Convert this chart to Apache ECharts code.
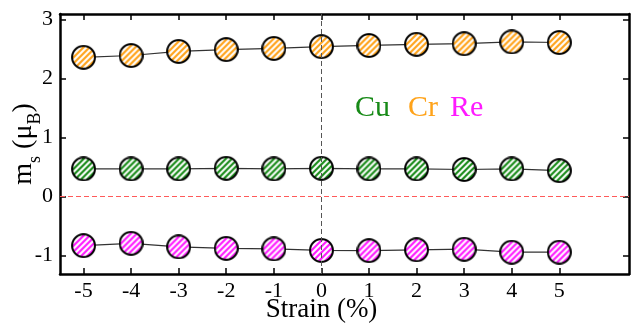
<!DOCTYPE html>
<html>
<head>
<meta charset="utf-8">
<script src="https://cdn.jsdelivr.net/npm/echarts@6/dist/echarts.min.js"></script>
<style>html,body{margin:0;padding:0;background:#fff}#c{width:631px;height:325px}</style>
</head>
<body>
<div id="c"></div>
<script>
// ---- data ----
const strain = [-5, -4, -3, -2, -1, 0, 1, 2, 3, 4, 5];
const cu = [0.47, 0.47, 0.47, 0.48, 0.47, 0.48, 0.47, 0.47, 0.46, 0.47, 0.44];
const cr = [2.36, 2.39, 2.46, 2.49, 2.51, 2.54, 2.56, 2.58, 2.59, 2.62, 2.61];
const re = [-0.83, -0.79, -0.85, -0.875, -0.885, -0.91, -0.915, -0.90, -0.89, -0.94, -0.94];
const seriesNames = ['Cu', 'Cr', 'Re'];
const xTicks = [-5, -4, -3, -2, -1, 0, 1, 2, 3, 4, 5];
const yTicks = [-1, 0, 1, 2, 3];

const colors = {Cu: '#178a17', Cr: '#ffa31a', Re: '#ff1aff'};
const FONT = '"Liberation Serif", "Times New Roman", serif';
const SYM = 25;

// hatched circle marker image (style asset)
function marker(color) {
  const R = 4, s = SYM, c = document.createElement('canvas');
  c.width = s * R; c.height = s * R;
  const g = c.getContext('2d');
  g.scale(R, R);
  const r = s / 2 - 1.1;
  g.save();
  g.beginPath(); g.arc(s / 2, s / 2, r, 0, Math.PI * 2); g.clip();
  g.fillStyle = color; g.fillRect(0, 0, s, s);
  g.strokeStyle = '#ffffff'; g.lineWidth = 2.1;
  g.beginPath();
  for (let t = -s; t < 2 * s; t += 6) { g.moveTo(t, s); g.lineTo(t + s, 0); }
  g.stroke();
  g.restore();
  g.beginPath(); g.arc(s / 2, s / 2, r, 0, Math.PI * 2);
  g.strokeStyle = '#000'; g.lineWidth = 2; g.stroke();
  return 'image://' + c.toDataURL('image/png');
}

const chart = echarts.init(document.getElementById('c'), null, {renderer: 'canvas'});

const axisLine = {show: true, onZero: false, lineStyle: {color: '#000', width: 2.5}};
const tickStyle = {lineStyle: {color: '#000', width: 1.5}};

function mkSeries(name, data) {
  return {
    name: name,
    type: 'line',
    z: 3,
    data: strain.map((x, i) => [x, data[i]]),
    symbol: marker(colors[name]),
    symbolSize: SYM,
    showSymbol: true,
    lineStyle: {color: '#333', width: 1.2},
    itemStyle: {color: colors[name]},
    emphasis: {disabled: true},
    silent: true
  };
}

const option = {
  animation: false,
  grid: {left: 60, right: 2, top: 14, bottom: 51, containLabel: false, outerBoundsMode: 'none'},
  xAxis: [
    {
      type: 'value', min: -5.494, max: 6.465, position: 'bottom',
      axisLine: axisLine,
      axisTick: Object.assign({show: true, inside: true, length: 6, customValues: xTicks}, tickStyle),
      axisLabel: {customValues: xTicks, color: '#000', fontSize: 22, fontFamily: FONT, margin: 6},
      splitLine: {show: false}
    },
    {
      type: 'value', min: -5.494, max: 6.465, position: 'top',
      axisLine: axisLine,
      axisTick: Object.assign({show: true, inside: true, length: 6, customValues: xTicks}, tickStyle),
      axisLabel: {show: false},
      splitLine: {show: false}
    }
  ],
  yAxis: [
    {
      type: 'value', min: -1.31, max: 3.093, position: 'left',
      axisLine: axisLine,
      axisTick: Object.assign({show: true, inside: true, length: 6, customValues: yTicks}, tickStyle),
      axisLabel: {customValues: yTicks, color: '#000', fontSize: 22, fontFamily: FONT, margin: 7},
      splitLine: {show: false},
      name: '{m|m}{s|s}{m| (μ}{s|B}{m|)}',
      nameLocation: 'middle',
      nameGap: 20,
      nameRotate: 90,
      nameMoveOverlap: false,
      nameTextStyle: {
        color: '#000', fontFamily: FONT,
        rich: {
          m: {fontSize: 28, lineHeight: 30, verticalAlign: 'top', fontFamily: FONT, color: '#000'},
          s: {fontSize: 18, lineHeight: 18, verticalAlign: 'top', padding: [16, 0, 0, 0], fontFamily: FONT, color: '#000'}
        }
      }
    },
    {
      type: 'value', min: -1.31, max: 3.093, position: 'right',
      axisLine: axisLine,
      axisTick: Object.assign({show: true, inside: true, length: 6, customValues: yTicks}, tickStyle),
      axisLabel: {show: false},
      splitLine: {show: false}
    }
  ],
  graphic: [
    {type: 'text', x: 321.5, y: 310, style: {text: 'Strain (%)', font: '27px ' + FONT, fill: '#000', align: 'center', verticalAlign: 'middle'}},
    {type: 'text', x: 355, y: 108, style: {text: seriesNames[0], font: '30px ' + FONT, fill: colors.Cu, align: 'left', verticalAlign: 'middle'}},
    {type: 'text', x: 408, y: 108, style: {text: seriesNames[1], font: '30px ' + FONT, fill: colors.Cr, align: 'left', verticalAlign: 'middle'}},
    {type: 'text', x: 450, y: 108, style: {text: seriesNames[2], font: '30px ' + FONT, fill: colors.Re, align: 'left', verticalAlign: 'middle'}}
  ],
  series: [
    {
      type: 'line', data: [], z: 1, silent: true,
      markLine: {
        silent: true, symbol: 'none', label: {show: false},
        data: [
          {xAxis: 0, lineStyle: {color: '#555', type: [5, 3], width: 1}},
          {yAxis: 0, lineStyle: {color: '#ff5a5a', type: [5, 3], width: 1}}
        ]
      }
    },
    mkSeries('Cu', cu),
    mkSeries('Cr', cr),
    mkSeries('Re', re)
  ]
};
chart.setOption(option);
</script>
</body>
</html>
